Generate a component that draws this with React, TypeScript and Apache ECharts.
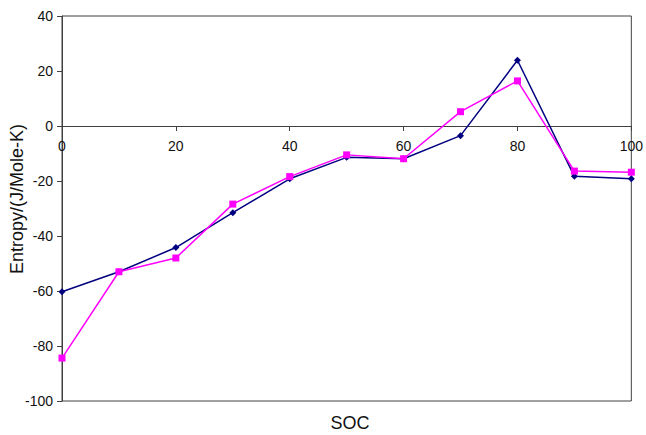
import React, { useEffect, useRef } from "react";
import * as echarts from "echarts";

const soc = [0, 10, 20, 30, 40, 50, 60, 70, 80, 90, 100];
const seriesBlue = [-60.3, -53, -44.2, -31.5, -19.2, -11.4, -11.9, -3.5, 23.9, -18.3, -19.2];
const seriesMagenta = [-84.4, -53, -48, -28.4, -18.4, -10.5, -11.9, 5.2, 16.4, -16.4, -16.8];
const yTitle = "Entropy/(J/Mole-K)";
const xTitle = "SOC";
const yMin = -100;
const yMax = 40;

const FONT = "'Liberation Sans', Arial, sans-serif";
const AXIS = "#404040";

const W = 646;
const H = 435;
const GRID = { left: 62, right: 14, top: 16, bottom: 34 };

export default function App() {
  const ref = useRef<HTMLDivElement>(null);
  useEffect(() => {
    if (!ref.current) return;
    const chart = echarts.init(ref.current, undefined, { renderer: "svg" });
    const plotH = H - GRID.top - GRID.bottom;
    const zeroOffset = -plotH * ((0 - yMin) / (yMax - yMin));
    chart.setOption({
      animation: false,
      backgroundColor: "#ffffff",
      grid: {
        ...GRID,
        show: true,
        borderColor: AXIS,
        borderWidth: 1,
      },
      xAxis: {
        type: "value",
        min: 0,
        max: 100,
        interval: 20,
        position: "bottom",
        offset: zeroOffset,
        axisLine: { show: true, onZero: false, lineStyle: { color: AXIS, width: 1 } },
        axisTick: { show: true, length: 5, lineStyle: { color: AXIS } },
        axisLabel: { margin: 13, color: "#111", fontSize: 14, fontFamily: FONT, showMaxLabel: true, showMinLabel: true },
        splitLine: { show: false },
      },
      yAxis: {
        type: "value",
        min: yMin,
        max: yMax,
        interval: 20,
        axisLine: { show: true, onZero: false, lineStyle: { color: AXIS, width: 1 } },
        axisTick: { show: true, length: 5, lineStyle: { color: AXIS } },
        axisLabel: { margin: 9, color: "#111", fontSize: 14, fontFamily: FONT },
        splitLine: { show: false },
      },
      graphic: [
        {
          type: "text",
          x: 17,
          y: 199,
          rotation: Math.PI / 2,
          style: {
            text: yTitle,
            fontSize: 18,
            fontFamily: FONT,
            fill: "#111",
            align: "center",
            verticalAlign: "middle",
          },
        },
        {
          type: "text",
          x: 350,
          y: 423,
          style: {
            text: xTitle,
            fontSize: 18,
            fontFamily: FONT,
            fill: "#111",
            align: "center",
            verticalAlign: "middle",
          },
        },
      ],
      series: [
        {
          type: "line",
          data: soc.map((s, i) => [s, seriesBlue[i]]),
          symbol: "diamond",
          symbolSize: 7,
          lineStyle: { color: "#000080", width: 1.5 },
          itemStyle: { color: "#000080" },
          z: 3,
        },
        {
          type: "line",
          data: soc.map((s, i) => [s, seriesMagenta[i]]),
          symbol: "rect",
          symbolSize: 7,
          lineStyle: { color: "#FF00FF", width: 1.5 },
          itemStyle: { color: "#FF00FF" },
          z: 4,
        },
      ],
    });
    return () => chart.dispose();
  }, []);
  return <div ref={ref} style={{ width: W, height: H, position: "absolute", left: 0, top: 0 }} />;
}
